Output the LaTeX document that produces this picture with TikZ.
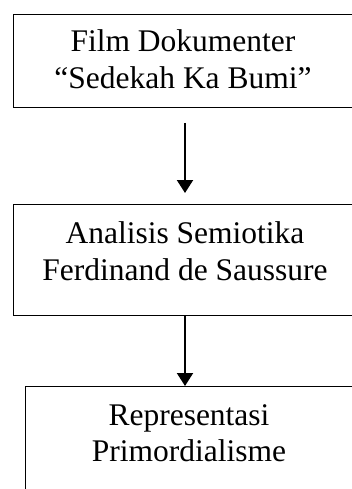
\documentclass[tikz,border=0pt]{standalone}
\usepackage{fontspec}
\setmainfont{Liberation Serif}
\usetikzlibrary{arrows.meta,positioning}
\tikzstyle{every node}=[font=\fontsize{31.5}{36.5}\selectfont]
\tikzstyle{frame} = [draw,line width=0.9pt,anchor=north west,inner sep=0pt]
\tikzstyle{label} = [align=center,inner sep=0pt]
\tikzstyle{arrow} = [line width=2pt,-{Triangle[width=16pt,length=13pt]}]

\begin{document}
\begin{tikzpicture}[x=1pt,y=-1pt]
\useasboundingbox (0,0) rectangle (351,489);

% boxes
\node[frame,minimum width=345pt,minimum height=93pt] (film) at (13,14) {};
\node[frame,minimum width=345pt,minimum height=111pt] (analisis) at (13,204) {};
\node[frame,minimum width=340pt,minimum height=150pt] (repr) at (25,386) {};

% texts
\node[label] (filmtext) at (183,59) {Film Dokumenter\\``Sedekah Ka Bumi''};
\node[label] (analisistext) at (185,251) {Analisis Semiotika\\Ferdinand de Saussure};
\node[label] (reprtext) at (189,433) {Representasi\\Primordialisme};

% arrows
\coordinate (ax) at (185,0);
\draw[arrow] ([yshift=-15pt]film.south -| ax) -- ([yshift=11pt]analisis.north -| ax);
\draw[arrow] (analisis.south -| ax) -- (repr.north -| ax);

\end{tikzpicture}
\end{document}
